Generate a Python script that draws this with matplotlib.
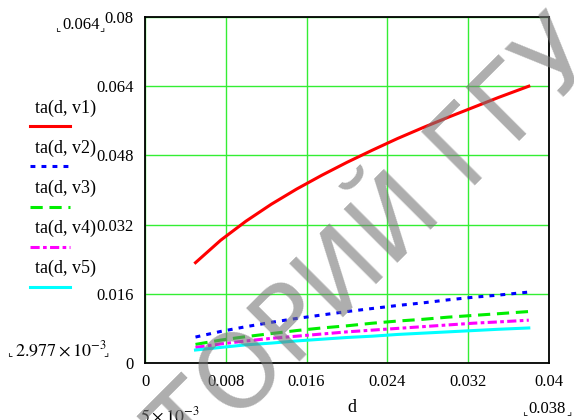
import matplotlib
matplotlib.use("Agg")
import matplotlib.pyplot as plt
from matplotlib.lines import Line2D

plt.rcParams['mathtext.fontset'] = 'stix'

d = [0.005, 0.0075, 0.010, 0.0125, 0.015, 0.0175, 0.020, 0.0225,
     0.025, 0.0275, 0.030, 0.0325, 0.035, 0.038]
v1 = [0.0232, 0.0284, 0.0328, 0.0367, 0.0402, 0.0434, 0.0464, 0.0492,
      0.0519, 0.0544, 0.0568, 0.0591, 0.0614, 0.0640]
v2 = [0.0060, 0.0073, 0.0084, 0.0094, 0.0103, 0.0111, 0.0119, 0.0126,
      0.0133, 0.0139, 0.0146, 0.0152, 0.0157, 0.0164]
v3 = [0.0043, 0.0053, 0.0061, 0.0068, 0.0075, 0.0081, 0.0086, 0.0092,
      0.0097, 0.0101, 0.0106, 0.0110, 0.0114, 0.0119]
v4 = [0.0036, 0.0044, 0.0051, 0.0057, 0.0062, 0.0067, 0.0072, 0.0076,
      0.0080, 0.0084, 0.0088, 0.0092, 0.0095, 0.0099]
v5 = [0.0030, 0.0036, 0.0042, 0.0046, 0.0051, 0.0055, 0.0059, 0.0062,
      0.0066, 0.0069, 0.0072, 0.0075, 0.0078, 0.0081]
labels = ['ta(d, v1)', 'ta(d, v2)', 'ta(d, v3)', 'ta(d, v4)', 'ta(d, v5)']
xticks = [0, 0.008, 0.016, 0.024, 0.032, 0.04]
xticklabels = ['0', '0.008', '0.016', '0.024', '0.032', '0.04']
yticks = [0, 0.016, 0.032, 0.048, 0.064, 0.08]
yticklabels = ['0', '0.016', '0.032', '0.048', '0.064', '0.08']

colors = ['#ff0000', '#0000ff', '#00ee00', '#ff00ff', '#00ffff']
styles = ['-', (0, (1.6, 2.0)), (0, (4, 2.2)), (0, (3, 1.1, 1.2, 1.1)), '-']

SERIF = 'Liberation Serif'
fig = plt.figure(figsize=(5.74, 4.2), dpi=100)
ax = fig.add_axes([145/574, 1-363/420, (549-145)/574, (363-17)/420])

for y, c, s in zip([v1, v2, v3, v4, v5], colors, styles):
    ax.plot(d, y, color=c, linestyle=s, lw=2.2, zorder=3)

ax.set_xlim(0, 0.04)
ax.set_ylim(0, 0.08)
ax.set_xticks(xticks)
ax.set_xticklabels(xticklabels, fontfamily=SERIF, fontsize=12)
ax.set_yticks(yticks)
ax.set_yticklabels(yticklabels, fontfamily=SERIF, fontsize=12)
ax.tick_params(length=0, pad=8)
ax.grid(True, color='#33ee33', lw=1)
for sp in ax.spines.values():
    sp.set_linewidth(1.3)
    sp.set_color('black')

# legend drawn manually at left
for i, (lab, c, s) in enumerate(zip(labels, colors, styles)):
    ty = 108 + 40 * i
    ly = 126 + 40.3 * i
    fig.text(35/574, 1-ty/420, lab, fontfamily=SERIF, fontsize=13,
             va='center', ha='left')
    fig.add_artist(Line2D([30/574, 70/574], [1-ly/420, 1-ly/420],
                          color=c, linestyle=s, lw=2.2, transform=fig.transFigure))

def corner(x, y, ch):
    fig.text(x/574, 1-y/420, ch, family='DejaVu Sans', fontsize=8, va='center', ha='center')

fig.text(62/574, 1-25/420, '0.064', fontfamily=SERIF, fontsize=12, va='center', ha='left')
corner(58, 28, '\u231e'); corner(102, 28, '\u231f')
fig.text(15/574, 1-350/420, r'$2.977\times10^{-3}$', fontsize=13, va='center', ha='left')
corner(10, 353, '\u231e'); corner(106, 353, '\u231f')
fig.text(140/574, 1-416/420, r'$5\times10^{-3}$', fontsize=13, va='center', ha='left')
fig.text(352/574, 1-408/420, 'd', fontfamily=SERIF, fontsize=13, va='center', ha='center')
fig.text(528/574, 1-409/420, '0.038', fontfamily=SERIF, fontsize=12, va='center', ha='left')
corner(525, 412, '\u231e'); corner(569, 412, '\u231f')

# watermark (semi-transparent gray overlay)
fig.text(601/574, 1-59/420, '\u041b\u0410\u0411\u041e\u0420\u0410\u0422\u041e\u0420\u0418\u0419 \u0413\u0413\u0423',
         family='DejaVu Sans', fontsize=74, color='#777777', alpha=0.6,
         rotation=45, rotation_mode='anchor', ha='right', va='baseline', zorder=10)

fig.savefig('out.png', dpi=100)
